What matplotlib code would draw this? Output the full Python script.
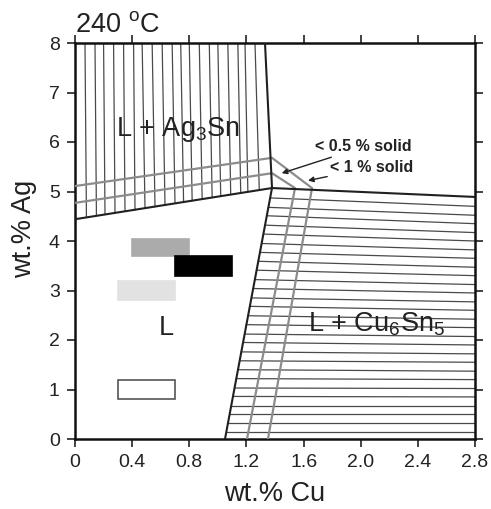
import numpy as np
import matplotlib
matplotlib.use("Agg")
import matplotlib.pyplot as plt
from matplotlib.patches import Rectangle

plt.rcParams['font.family'] = ['Liberation Sans', 'DejaVu Sans']
plt.rcParams['mathtext.fontset'] = 'custom'
plt.rcParams['mathtext.rm'] = 'Liberation Sans'
plt.rcParams['mathtext.it'] = 'Liberation Sans:italic'

# ---- data ----
cu_ticks = [0, 0.4, 0.8, 1.2, 1.6, 2.0, 2.4, 2.8]
cu_tick_labels = ['0', '0.4', '0.8', '1.2', '1.6', '2.0', '2.4', '2.8']
ag_ticks = [0, 1, 2, 3, 4, 5, 6, 7, 8]

# liquidus boundaries (dark)
ag3sn_bound_x = [0.0, 1.379, 1.33]
ag3sn_bound_y = [4.44, 5.07, 8.0]
cu6sn5_bound_x = [1.05, 1.379, 2.8]
cu6sn5_bound_y = [0.0, 5.07, 4.89]

# fraction-solid lines (grey)
solid05_x = [0.0, 1.379, 1.54, 1.204]
solid05_y = [4.77, 5.37, 5.07, 0.0]
solid1_x = [0.0, 1.379, 1.659, 1.351]
solid1_y = [5.11, 5.68, 5.07, 0.0]

# Ag3Sn tie lines: x at top (Ag = 8) and at the liquidus
ag3sn_tie_top = [0.07, 0.14, 0.20, 0.27, 0.34, 0.41, 0.47, 0.54, 0.61, 0.68,
                 0.74, 0.80, 0.87, 0.94, 1.00, 1.07, 1.14, 1.19, 1.26]
ag3sn_tie_bot = [0.08, 0.15, 0.21, 0.28, 0.35, 0.42, 0.49, 0.56, 0.63, 0.70,
                 0.76, 0.82, 0.89, 0.96, 1.02, 1.09, 1.16, 1.21, 1.29]

# Cu6Sn5 tie lines: Ag at the liquidus (left) and at Cu = 2.8 (right)
cu6sn5_tie_left = [4.87, 4.68, 4.51, 4.32, 4.14, 3.95, 3.77, 3.59, 3.41, 3.22,
                   3.04, 2.85, 2.68, 2.49, 2.31, 2.12, 1.95, 1.76, 1.58, 1.40,
                   1.22, 1.03, 0.86, 0.67, 0.50, 0.32, 0.15]
cu6sn5_tie_right = [4.70, 4.52, 4.35, 4.17, 4.00, 3.82, 3.65, 3.47, 3.30, 3.12,
                    2.95, 2.77, 2.60, 2.42, 2.25, 2.07, 1.90, 1.72, 1.55, 1.37,
                    1.20, 1.02, 0.85, 0.67, 0.50, 0.32, 0.15]

# alloy composition boxes
box_cu_min = [0.40, 0.70, 0.30, 0.30]
box_cu_max = [0.80, 1.10, 0.70, 0.70]
box_ag_min = [3.70, 3.30, 2.80, 0.80]
box_ag_max = [4.05, 3.70, 3.20, 1.20]
box_colors = ['#ababab', '#000000', '#e2e2e2', '#ffffff']

# ---- figure ----
fig = plt.figure(figsize=(4.91, 5.09), dpi=100)
ax = fig.add_axes([75/491, 70/509, 400/491, 396/509])
ax.set_xlim(0, 2.8)
ax.set_ylim(0, 8)

tie_col = '#4a4a4a'
liq_a_x = ag3sn_bound_x[:2]
liq_a_y = ag3sn_bound_y[:2]
for xt, xb in zip(ag3sn_tie_top, ag3sn_tie_bot):
    yb = np.interp(xb, liq_a_x, liq_a_y)
    ax.plot([xb, xt], [yb, 8.0], color=tie_col, lw=0.9, zorder=2)

liq_c_y = cu6sn5_bound_y[:2]
liq_c_x = cu6sn5_bound_x[:2]
for yl, yr in zip(cu6sn5_tie_left, cu6sn5_tie_right):
    xl = np.interp(yl, liq_c_y, liq_c_x)
    ax.plot([xl, 2.8], [yl, yr], color=tie_col, lw=0.9, zorder=2)

ax.plot(solid05_x, solid05_y, color='#8c8c8c', lw=1.6, zorder=3)
ax.plot(solid1_x, solid1_y, color='#8c8c8c', lw=1.6, zorder=3)

ax.plot(ag3sn_bound_x, ag3sn_bound_y, color='#202020', lw=1.5, zorder=4)
ax.plot(cu6sn5_bound_x, cu6sn5_bound_y, color='#202020', lw=1.5, zorder=4)

for x0, x1, y0, y1, c in zip(box_cu_min, box_cu_max, box_ag_min, box_ag_max, box_colors):
    ec = '#555555' if c == '#ffffff' else c
    ax.add_patch(Rectangle((x0, y0), x1 - x0, y1 - y0, facecolor=c,
                           edgecolor=ec, lw=1.2, zorder=5))

ax.text(0.72, 6.25, 'L + Ag$_3$Sn', fontsize=19.5, ha='center', va='center', color='#222222')
ax.text(0.64, 2.25, 'L', fontsize=19.5, ha='center', va='center', color='#222222')
ax.text(2.11, 2.32, 'L + Cu$_6$Sn$_5$', fontsize=19.5, ha='center', va='center', color='#222222')

ax.annotate('< 0.5 % solid', xy=(1.447, 5.37), xytext=(1.68, 5.90),
            fontsize=11.5, fontweight='bold', ha='left', va='center', color='#222222',
            arrowprops=dict(arrowstyle='-|>', color='#222222', lw=1.0,
                            mutation_scale=8, shrinkA=0, shrinkB=0))
ax.annotate('< 1 % solid', xy=(1.631, 5.22), xytext=(1.785, 5.49),
            fontsize=11.5, fontweight='bold', ha='left', va='center', color='#222222',
            arrowprops=dict(arrowstyle='-|>', color='#222222', lw=1.0,
                            mutation_scale=8, shrinkA=0, shrinkB=0))

ax.set_xticks(cu_ticks)
ax.set_xticklabels(cu_tick_labels)
ax.set_yticks(ag_ticks)
ax.tick_params(direction='out', length=6, width=1.2, labelsize=14, pad=5,
               top=True, right=True, colors='#222222')
for s in ax.spines.values():
    s.set_linewidth(1.8)
    s.set_color('#111111')
ax.set_xlabel('wt.% Cu', fontsize=19.5, labelpad=7, color='#222222')
ax.set_ylabel('wt.% Ag', fontsize=19.5, color='#222222')
ax.yaxis.set_label_coords(-0.095, 0.53)
ax.text(0.0, 1.012, '240 $^{\\mathrm{o}}$C', transform=ax.transAxes,
        fontsize=19.5, ha='left', va='bottom', color='#222222')

fig.savefig('out.png', dpi=100, facecolor='white')
